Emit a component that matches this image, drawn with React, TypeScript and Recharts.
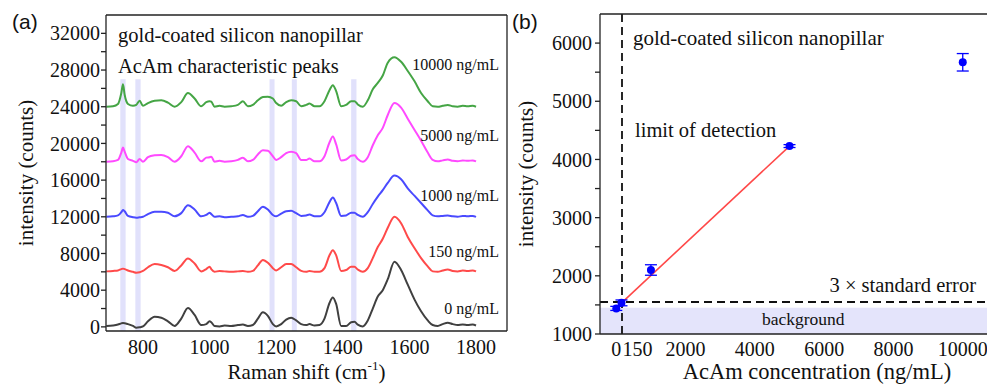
import React from "react";
import {
  LineChart,
  Line,
  XAxis,
  YAxis,
  ReferenceArea,
  ReferenceLine,
  ComposedChart,
  Scatter,
  ErrorBar,
} from "recharts";

const serif = '"Liberation Serif", "Times New Roman", serif';
const sans = '"Liberation Sans", Arial, sans-serif';

// panel (a): Raman spectra, already offset as plotted
const ramanShift = [
  690, 710, 725, 735, 740, 745, 755, 770, 780, 790, 800, 815, 835, 855, 875, 895, 915, 935, 955, 975,
  990, 1000, 1005, 1015, 1030, 1045, 1065, 1085, 1100, 1115, 1130, 1145, 1160, 1175, 1190, 1200, 1215,
  1230, 1245, 1260, 1275, 1290, 1300, 1315, 1330, 1345, 1360, 1370, 1380, 1395, 1410, 1425, 1435, 1445,
  1460, 1475, 1490, 1505, 1520, 1535, 1555, 1575, 1595, 1615, 1635, 1655, 1670, 1685, 1700, 1715, 1730,
  1745, 1760, 1775, 1790, 1800,
];
const spec0 = [
  100, 150, 250, 380, 420, 400, 300, 100, -100, -50, 50, 600, 1100, 1000, 600, 100, 900, 2050, 1300, 200,
  300, 600, 500, 100, 50, 150, 100, 200, 250, 100, 200, 900, 1600, 1200, 300, 50, 300,
  800, 1000, 700, 300, 200, 300, 150, 200, 900, 2600, 3200, 2500, 100, 100, 500, 550, 250,
  50, 700, 2000, 3300, 4000, 5200, 7100, 6200, 4600, 3000, 1700, 700, 200, 100, 300, 450, 300,
  200, 250, 200, 250, 150,
];
const spec150 = [
  6050, 6100, 6150, 6300, 6350, 6300, 6150, 6000, 5900, 5950, 6100, 6500, 6850, 6750, 6500, 6100, 6700, 7450, 6900, 6050,
  6300, 6550, 6300, 6000, 6100, 6050, 6000, 6050, 6100, 6000, 6100, 6700, 7300, 7000, 6400, 6150, 6500,
  6850, 6850, 6500, 6100, 6000, 6100, 6000, 6000, 6400, 7800, 8350, 7800, 6100, 6200, 6550, 6550, 6250,
  6000, 6400, 7500, 8700, 9600, 10800, 12000, 11300, 9800, 8600, 7500, 6600, 6050, 6000, 6150, 6250, 6100,
  6050, 6150, 6100, 6150, 6050,
];
const spec1000 = [
  12000, 12050, 12150, 12500, 12750, 12600, 12100, 11950, 11900, 11950, 12000, 12300, 12550, 12550, 12450, 12050, 12400, 13250, 12800, 12050,
  12200, 12450, 12300, 12000, 12050, 11950, 12000, 12050, 12200, 12000, 12100, 12600, 13100, 12800, 12200, 12050, 12350,
  12600, 12650, 12400, 12100, 12150, 12250, 12050, 12050, 12500, 13600, 14100, 13500, 12100, 12150, 12450, 12450, 12200,
  12000, 12500, 13400, 14200, 14900, 15700, 16500, 16100, 15100, 14300, 13500, 12700, 12150, 12050, 12100, 12150, 12050,
  12000, 12100, 12050, 12100, 12000,
];
const spec5000 = [
  18000, 18050, 18200, 19000, 19550, 19100, 18300, 18100, 17950, 18300, 18000, 18500, 18700, 18750, 18500, 18000, 18600, 19700, 19000, 18050,
  18450, 18500, 18550, 18000, 18100, 18000, 18050, 18200, 18450, 18050, 18200, 18800, 19250, 19200, 18600, 18200, 18500,
  18950, 19100, 18950, 18200, 18200, 18350, 18050, 18050, 18600, 20100, 20750, 19900, 18150, 18250, 18650, 18700, 18300,
  18000, 18500, 19800, 20900, 21700, 23100, 24400, 23900, 22700, 21500, 20300, 19000, 18200, 18050, 18150, 18250, 18100,
  18050, 18150, 18100, 18150, 18050,
];
const spec10000 = [
  24000, 24050, 24300, 25500, 26450, 25300, 24300, 24100, 24200, 24650, 24100, 24400, 24650, 24700, 24450, 24000, 24500, 25500, 24900, 24050,
  24500, 24600, 24550, 24000, 24100, 24000, 24050, 24200, 24600, 24050, 24200, 24700, 25050, 25100, 24900, 24400, 24100,
  24500, 24700, 24600, 24050, 24200, 24350, 24050, 24050, 24600, 25800, 26350, 25700, 24050, 24200, 24600, 24600, 24250,
  24000, 24700, 25900, 26600, 27400, 28800, 29400, 28900, 27900, 26800, 25500, 24600, 24050, 24000, 24100, 24200, 24050,
  24000, 24100, 24050, 24100, 24000,
];
const peakBands = [
  [732, 748],
  [777, 793],
  [1180, 1195],
  [1247, 1262],
  [1425, 1441],
];
const shiftLabelTicks = [800, 1000, 1200, 1400, 1600, 1800];
const shiftMarkTicks = [700, 800, 900, 1000, 1100, 1200, 1300, 1400, 1500, 1600, 1700, 1800];
const countTicks = [
  0, 2000, 4000, 6000, 8000, 10000, 12000, 14000, 16000, 18000, 20000, 22000, 24000, 26000, 28000, 30000, 32000,
];

// panel (b): calibration
const conc = [0, 150, 1000, 5000, 10000];
const meanIntensity = [1440, 1535, 2100, 4230, 5670];
const intensityErr = [35, 50, 90, 25, 150];
const fitConc = [0, 5000];
const fitIntensity = [1450, 4230];
const lod = 165;
const threshold = 1550;
const backgroundTop = 1450;
const concLabelTicks = [0, 150, 2000, 4000, 6000, 8000, 10000];
const concMarkTicks = [0, 150, 1000, 2000, 3000, 4000, 5000, 6000, 7000, 8000, 9000, 10000];
const concTopTicks = [0, 1000, 2000, 3000, 4000, 5000, 6000, 7000, 8000, 9000, 10000];
const intensTicks = [1000, 1500, 2000, 2500, 3000, 3500, 4000, 4500, 5000, 5500, 6000];

const spectra = [
  { key: "s0", values: spec0, color: "#404040" },
  { key: "s150", values: spec150, color: "#ff4a4a" },
  { key: "s1000", values: spec1000, color: "#4a4aff" },
  { key: "s5000", values: spec5000, color: "#ff4aff" },
  { key: "s10000", values: spec10000, color: "#45a545" },
];

const spectraData = ramanShift.map((w, i) => {
  const row: Record<string, number> = { w };
  spectra.forEach((s) => (row[s.key] = s.values[i]));
  return row;
});
const points = conc.map((x, i) => ({ x, y: meanIntensity[i], err: intensityErr[i] }));
const fitData = fitConc.map((x, i) => ({ x, fit: fitIntensity[i] }));

const axisStroke = { stroke: "#222", strokeWidth: 1.3 };

// y tick: labels only on the "every" step, right aligned
function makeYTick(every: number) {
  return function YTick(props: any) {
    const { x, y, payload } = props;
    const v = payload.value;
    if (v % every !== 0) return null;
    return (
      <text x={x} y={y} dy="0.355em" textAnchor="end" fontSize={20} fill="#111" fontFamily={serif}>
        {v}
      </text>
    );
  };
}
const CountTick = makeYTick(4000);
const IntensTick = makeYTick(1000);

function ShiftTick(props: any) {
  const { x, y, payload } = props;
  return (
    <text x={x} y={y} dy="0.71em" textAnchor="middle" fontSize={20} fill="#111" fontFamily={serif}>
      {payload.value}
    </text>
  );
}

function ConcTick(props: any) {
  const { x, y, payload } = props;
  const v = payload.value;
  return (
    <text
      x={v === 150 ? x + 1 : x}
      y={y}
      dy="0.71em"
      textAnchor={v === 150 ? "start" : "middle"}
      fontSize={20}
      fill="#111"
      fontFamily={serif}
    >
      {v}
    </text>
  );
}

function SpectraPanel() {
  const yDomain = [-450, 34000];
  const xDomain = [689, 1893];
  return (
    <LineChart width={520} height={385} data={spectraData} margin={{ top: 15, right: 13, left: 0, bottom: 0 }}>
      <XAxis
        xAxisId="b"
        dataKey="w"
        type="number"
        domain={xDomain}
        ticks={shiftLabelTicks}
        interval={0}
        height={54}
        tickLine={false}
        tickSize={0}
        tickMargin={9}
        axisLine={axisStroke}
        tick={<ShiftTick />}
      />
      <XAxis xAxisId="bm" type="number" orientation="bottom" mirror domain={xDomain} ticks={shiftMarkTicks}
        interval={0} tick={false} axisLine={false} tickSize={5} tickLine={axisStroke} />
      <XAxis xAxisId="t" type="number" orientation="top" mirror domain={xDomain} ticks={shiftMarkTicks}
        interval={0} tick={false} axisLine={axisStroke} tickSize={5} tickLine={axisStroke} />
      <YAxis
        yAxisId="l"
        type="number"
        domain={yDomain}
        ticks={countTicks}
        interval={0}
        width={106}
        tickSize={5}
        tickMargin={1}
        axisLine={axisStroke}
        tickLine={axisStroke}
        tick={<CountTick />}
      />
      <YAxis yAxisId="l2" type="number" mirror domain={yDomain} ticks={countTicks} interval={0}
        tick={false} axisLine={false} tickSize={5} tickLine={axisStroke} />
      <YAxis yAxisId="r" type="number" orientation="right" mirror domain={yDomain} ticks={countTicks}
        interval={0} tick={false} axisLine={axisStroke} tickSize={5} tickLine={axisStroke} />
      {peakBands.map(([a, b]) => (
        <ReferenceArea key={a} xAxisId="b" yAxisId="l" x1={a} x2={b} y1={-450} y2={27000}
          fill="#c8c8f8" fillOpacity={0.55} stroke="none" />
      ))}
      {spectra.map((s) => (
        <Line key={s.key} xAxisId="b" yAxisId="l" type="monotone" dataKey={s.key} stroke={s.color}
          strokeWidth={2} dot={false} isAnimationActive={false} />
      ))}
    </LineChart>
  );
}

function CalibrationPanel() {
  const xDomain = [-470, 10700];
  const yDomain = [1000, 6500];
  return (
    <ComposedChart width={477} height={385} margin={{ top: 14, right: 0, left: 0, bottom: 0 }}>
      <XAxis
        xAxisId="b"
        dataKey="x"
        type="number"
        domain={xDomain}
        ticks={concLabelTicks}
        interval={0}
        height={51}
        tickLine={false}
        tickSize={0}
        tickMargin={8}
        axisLine={axisStroke}
        tick={<ConcTick />}
      />
      <XAxis xAxisId="bm" type="number" orientation="bottom" mirror domain={xDomain} ticks={concMarkTicks}
        interval={0} tick={false} axisLine={false} tickSize={5} tickLine={axisStroke} />
      <XAxis xAxisId="t" type="number" orientation="top" mirror domain={xDomain} ticks={concTopTicks}
        interval={0} tick={false} axisLine={axisStroke} tickSize={5} tickLine={axisStroke} />
      <YAxis
        yAxisId="l"
        type="number"
        domain={yDomain}
        ticks={intensTicks}
        interval={0}
        width={90}
        tickSize={5}
        tickMargin={3}
        axisLine={axisStroke}
        tickLine={axisStroke}
        tick={<IntensTick />}
      />
      <ReferenceArea xAxisId="b" yAxisId="l" x1={-470} x2={10700} y1={1000} y2={backgroundTop}
        fill="#e4e4fb" fillOpacity={1} stroke="none" />
      <ReferenceLine xAxisId="b" yAxisId="l" x={lod} stroke="#111" strokeWidth={1.8} strokeDasharray="8 5" />
      <ReferenceLine xAxisId="b" yAxisId="l" y={threshold} stroke="#111" strokeWidth={1.8} strokeDasharray="8 5" />
      <Line xAxisId="b" yAxisId="l" data={fitData} dataKey="fit" type="linear" stroke="#ff4848"
        strokeWidth={1.6} dot={false} isAnimationActive={false} />
      <Scatter xAxisId="b" yAxisId="l" data={points} dataKey="y" fill="#0000ff" isAnimationActive={false}
        shape={(p: any) => <circle cx={p.cx} cy={p.cy} r={4} fill="#0000ff" />}>
        <ErrorBar dataKey="err" direction="y" width={6} stroke="#0000ff" strokeWidth={1.3} />
      </Scatter>
    </ComposedChart>
  );
}

export default function App() {
  return (
    <div style={{ position: "absolute", left: 0, top: 0, width: 987, height: 385, background: "#fff", overflow: "hidden" }}>
      <div style={{ position: "absolute", left: 0, top: 0 }}>
        <SpectraPanel />
      </div>
      <div style={{ position: "absolute", left: 510, top: 0 }}>
        <CalibrationPanel />
      </div>
      <svg width={987} height={385} style={{ position: "absolute", left: 0, top: 0, pointerEvents: "none" }}>
        <g fontFamily={serif} fill="#111">
          <text x={12} y={29} fontFamily={sans} fontSize={21}>(a)</text>
          <text x={512} y={29} fontFamily={sans} fontSize={21}>(b)</text>

          <text x={118} y={42} fontSize={20.5}>gold-coated silicon nanopillar</text>
          <text x={118} y={73} fontSize={20.5}>AcAm characteristic peaks</text>
          <text x={499} y={70} fontSize={16} textAnchor="end">10000 ng/mL</text>
          <text x={499} y={141} fontSize={16} textAnchor="end">5000 ng/mL</text>
          <text x={499} y={201} fontSize={16} textAnchor="end">1000 ng/mL</text>
          <text x={499} y={257} fontSize={16} textAnchor="end">150 ng/mL</text>
          <text x={499} y={314} fontSize={16} textAnchor="end">0 ng/mL</text>
          <text x={33} y={173} fontSize={21} textAnchor="middle" transform="rotate(-90 33 173)">intensity (counts)</text>
          <text x={306.5} y={379} fontSize={21} textAnchor="middle">
            Raman shift (cm<tspan fontSize={13} dy={-9}>-1</tspan><tspan dy={9}>)</tspan>
          </text>

          <text x={633} y={45} fontSize={21}>gold-coated silicon nanopillar</text>
          <text x={635} y={137} fontSize={20.5}>limit of detection</text>
          <text x={976} y={292} fontSize={20.5} textAnchor="end">3 × standard error</text>
          <text x={762} y={325} fontSize={17.5}>background</text>
          <text x={533} y={174} fontSize={21} textAnchor="middle" transform="rotate(-90 533 174)">intensity (counts)</text>
          <text x={817} y={379} fontSize={22.5} textAnchor="middle">AcAm concentration (ng/mL)</text>
        </g>
      </svg>
    </div>
  );
}
